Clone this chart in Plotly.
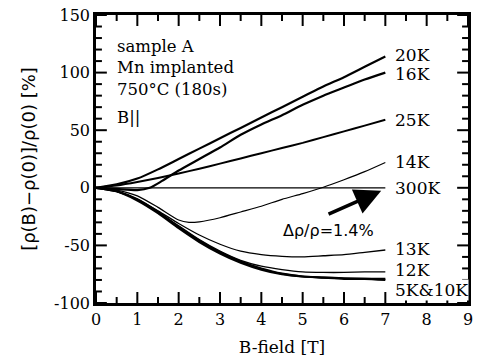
import plotly.graph_objects as go

B = [0, 0.5, 1, 1.5, 2, 2.5, 3, 3.5, 4, 4.5, 5, 5.5, 6, 6.5, 7]
B16 = [0, 0.5, 1, 1.3, 1.6, 2, 2.5, 3, 3.5, 4, 4.5, 5, 5.5, 6, 6.5, 7]
B14 = [0, 0.5, 1, 1.5, 2, 2.25, 2.5, 3, 3.5, 4, 4.5, 5, 5.5, 6, 6.5, 7]

mr_20K = [0, 3, 8, 16, 25, 34, 43, 52, 61, 70, 79, 88, 96, 105, 114]
mr_16K = [0, -1, -2, 0, 6, 15, 25, 35, 46, 55, 63, 72, 80, 87, 94, 100]
mr_25K = [0, 2, 5, 8.5, 12.5, 16.5, 21, 25.5, 30, 34.5, 39, 44, 49, 54, 59]
mr_14K = [0, -2, -7, -17, -28, -30, -29.5, -26, -21, -16, -10, -5, 0.5, 7, 14, 22]
mr_300K = [0, 0, 0, 0, 0, 0, 0, 0, 0, 0, 0, 0, 0, 0, 0]
mr_13K = [0, -3, -10, -20, -31, -41, -49, -55, -58, -59.5, -60, -59, -58, -56, -54]
mr_12K = [0, -3, -10, -21, -33, -45, -55, -63, -68, -71, -73, -73.5, -73.5, -73, -73]
mr_10K = [0, -3, -10, -21, -34, -46, -56, -64, -70, -74.5, -77, -78, -78.5, -79, -79]
mr_5K = [0, -3, -11, -22, -35, -47, -57, -65, -71, -75, -77, -78, -79, -79, -80]

labels = ["20K", "16K", "25K", "14K", "300K", "13K", "12K", "5K&10K"]
label_y = [115, 99, 59, 22, 0, -53, -71, -89]

x_major = [0, 1, 2, 3, 4, 5, 6, 7, 8, 9]
x_minor = [0.5, 1.5, 2.5, 3.5, 4.5, 5.5, 6.5, 7.5, 8.5]
y_major = [-100, -50, 0, 50, 100, 150]
y_minor = [-90, -80, -70, -60, -40, -30, -20, -10, 10, 20, 30, 40, 60, 70, 80, 90, 110, 120, 130, 140]

info_lines = ["sample A", "Mn implanted", "750°C (180s)"]
info_b = "B||"

series = [
    (B, mr_20K, 2.2),
    (B16, mr_16K, 2.2),
    (B, mr_25K, 2.0),
    (B14, mr_14K, 1.2),
    (B, mr_300K, 1.3),
    (B, mr_13K, 1.3),
    (B, mr_12K, 1.3),
    (B, mr_10K, 2.2),
    (B, mr_5K, 2.2),
]

XMIN, XMAX, YMIN, YMAX = 0, 9, -100, 150
W, H = 479, 364
ML, MR, MT, MB = 96, 6, 15, 61
px_x = (XMAX - XMIN) / (W - ML - MR)   # data units per pixel
px_y = (YMAX - YMIN) / (H - MT - MB)

fig = go.Figure()
for xs, ys, w in series:
    fig.add_trace(go.Scatter(x=xs, y=ys, mode="lines",
                             line=dict(color="black", width=w, shape="spline", smoothing=0.6),
                             showlegend=False, hoverinfo="skip"))

# inward ticks on all four sides (major and minor)
tx, ty = [], []
for vals, ln in ((x_major, 11), (x_minor, 6)):
    for xv in vals:
        tx += [xv, xv, None, xv, xv, None]
        ty += [YMIN, YMIN + ln * px_y, None, YMAX, YMAX - ln * px_y, None]
for vals, ln in ((y_major, 11), (y_minor, 6)):
    for yv in vals:
        tx += [XMIN, XMIN + ln * px_x, None, XMAX, XMAX - ln * px_x, None]
        ty += [yv, yv, None, yv, yv, None]
fig.add_trace(go.Scatter(x=tx, y=ty, mode="lines", line=dict(color="black", width=2),
                         showlegend=False, hoverinfo="skip", cliponaxis=False))

serif = "DejaVu Serif"
for lab, yy in zip(labels, label_y):
    fig.add_annotation(x=7.2, y=yy, text=lab, showarrow=False, xanchor="left", yanchor="middle",
                       font=dict(family=serif, size=17, color="black"), bgcolor="white",
                       borderpad=0)

fig.add_annotation(x=0.45, y=133, text="<br>".join(info_lines), showarrow=False,
                   xanchor="left", yanchor="top", align="left",
                   font=dict(family=serif, size=16.5, color="black"))
fig.add_annotation(x=0.45, y=61, text=info_b, showarrow=False,
                   xanchor="left", yanchor="middle", align="left",
                   font=dict(family=serif, size=16.5, color="black"))

fig.add_annotation(x=6.9, y=-2.6, ax=5.59, ay=-23.5, axref="x", ayref="y", xref="x", yref="y",
                   text="", showarrow=True, arrowhead=2, arrowsize=1.5, arrowwidth=3.5,
                   arrowcolor="black")
fig.add_annotation(x=5.62, y=-37, text="Δρ/ρ=1.4%", showarrow=False,
                   font=dict(family="DejaVu Sans", size=16, color="black"))

fig.update_xaxes(range=[XMIN, XMAX], tickvals=x_major, ticktext=[str(v) for v in x_major],
                 showgrid=False, zeroline=False, showline=True, linecolor="black", linewidth=2.5,
                 mirror=True, ticks="",
                 tickfont=dict(family=serif, size=16, color="black"),
                 title=dict(text="B-field [T]", font=dict(family=serif, size=17, color="black"), standoff=14))
fig.update_yaxes(range=[YMIN, YMAX], tickvals=y_major, ticktext=[str(v) for v in y_major],
                 showgrid=False, zeroline=False, showline=True, linecolor="black", linewidth=2.5,
                 mirror=True, ticks="",
                 tickfont=dict(family=serif, size=16, color="black"),
                 title=dict(text="[ρ(B)−ρ(0)]/ρ(0) [%]", font=dict(family="DejaVu Sans", size=18, color="black"), standoff=14))

fig.update_layout(width=W, height=H, margin=dict(l=ML, r=MR, t=MT, b=MB),
                  plot_bgcolor="white", paper_bgcolor="white")

fig.write_html("out.html")
